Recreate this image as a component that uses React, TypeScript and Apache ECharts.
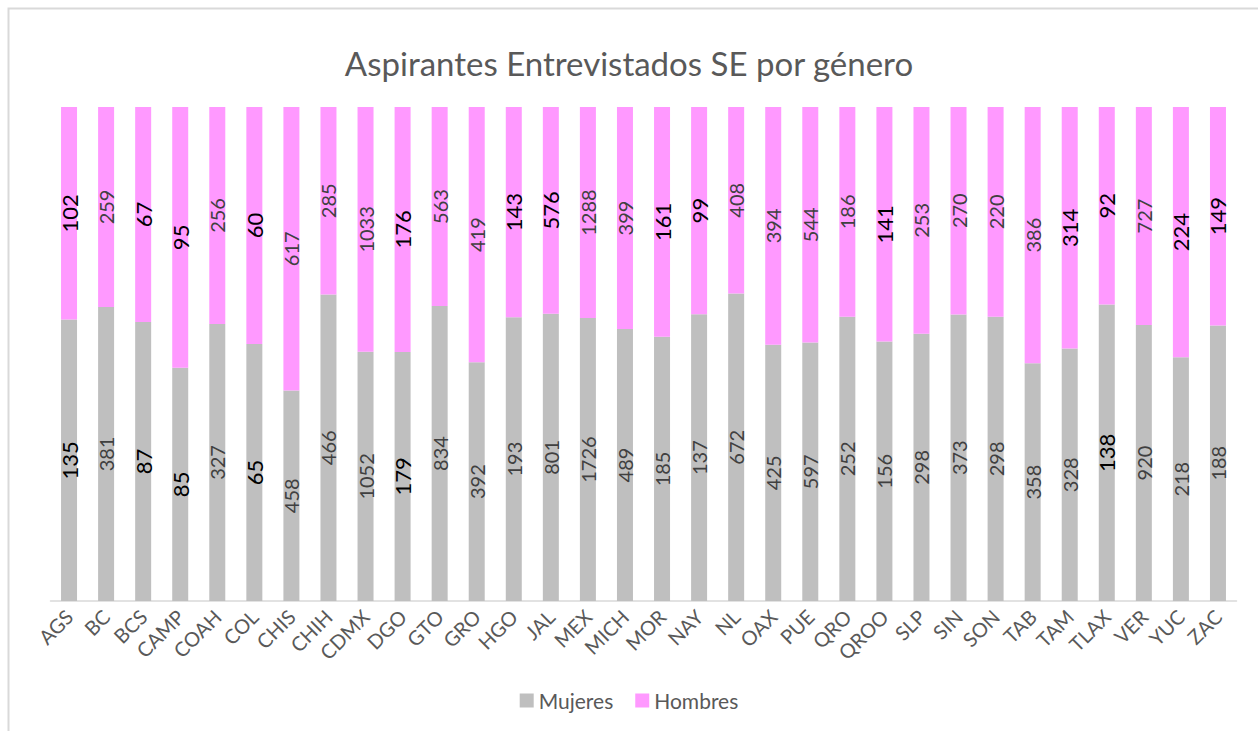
import React, { useEffect, useRef } from "react";
import * as echarts from "echarts";

const categories = ["AGS","BC","BCS","CAMP","COAH","COL","CHIS","CHIH","CDMX","DGO","GTO","GRO","HGO","JAL","MEX","MICH","MOR","NAY","NL","OAX","PUE","QRO","QROO","SLP","SIN","SON","TAB","TAM","TLAX","VER","YUC","ZAC"];
const mujeres = [135,381,87,85,327,65,458,466,1052,179,834,392,193,801,1726,489,185,137,672,425,597,252,156,298,373,298,358,328,138,920,218,188];
const hombres = [102,259,67,95,256,60,617,285,1033,176,563,419,143,576,1288,399,161,99,408,394,544,186,141,253,270,220,386,314,92,727,224,149];
// labels drawn in black (others dark grey) as in the reference
const mujeresDark = ["AGS","BCS","CAMP","COL","DGO","TLAX"];
const hombresDark = ["AGS","BCS","CAMP","COL","DGO","HGO","JAL","MOR","NAY","QROO","TAM","TLAX","YUC","ZAC"];

const FONT = "Lato, 'Open Sans', sans-serif";

export default function App() {
  const ref = useRef<HTMLDivElement>(null);
  useEffect(() => {
    const chart = echarts.init(ref.current!, null, { renderer: "svg" });
    const totals = mujeres.map((m, i) => m + hombres[i]);
    const mk = (vals: number[], dark: string[]) =>
      vals.map((v, i) => {
        const isDark = dark.includes(categories[i]);
        return {
          value: v / totals[i],
          raw: v,
          label: isDark
            ? { color: "#000000", fontSize: 22 }
            : { color: "#404040", fontSize: 20 },
        };
      });
    const labelBase = {
      show: true,
      position: "inside",
      rotate: 90,
      fontFamily: FONT,
      fontSize: 20,
      color: "#404040",
      formatter: (p: any) => String(p.data.raw),
    };
    chart.setOption({
      animation: false,
      backgroundColor: "#ffffff",
      title: {
        text: "Aspirantes Entrevistados SE por género",
        left: "center",
        top: 41,
        textStyle: { fontFamily: FONT, fontSize: 33, fontWeight: "normal", color: "#595959" },
      },
      legend: {
        bottom: 15,
        left: "center",
        itemWidth: 14,
        itemHeight: 14,
        itemGap: 22,
        icon: "rect",
        textStyle: { fontFamily: FONT, fontSize: 21, color: "#595959" },
        data: ["Mujeres", "Hombres"],
      },
      grid: { left: 50.5, right: 21.5, top: 107, bottom: 130, containLabel: false },
      xAxis: {
        type: "category",
        data: categories,
        axisLine: { lineStyle: { color: "#D9D9D9", width: 1.5 } },
        axisTick: { show: false },
        axisLabel: {
          rotate: 45,
          interval: 0,
          margin: 12,
          fontFamily: FONT,
          fontSize: 20,
          color: "#595959",
        },
      },
      yAxis: {
        type: "value",
        min: 0,
        max: 1,
        show: false,
        splitLine: { show: false },
      },
      series: [
        {
          name: "Mujeres",
          type: "bar",
          stack: "total",
          barWidth: 16,
          itemStyle: { color: "#BFBFBF" },
          label: labelBase,
          data: mk(mujeres, mujeresDark),
        },
        {
          name: "Hombres",
          type: "bar",
          stack: "total",
          barWidth: 16,
          itemStyle: { color: "#FF99FF" },
          label: labelBase,
          data: mk(hombres, hombresDark),
        },
      ],
      graphic: [
        {
          type: "rect",
          shape: { x: 8.5, y: 8.5, width: 1400, height: 900 },
          style: { fill: "none", stroke: "#D9D9D9", lineWidth: 2 },
          silent: true,
        },
      ],
    });
    return () => chart.dispose();
  }, []);
  return (
    <div
      ref={ref}
      style={{ position: "absolute", left: 0, top: 0, width: 1258, height: 731 }}
    />
  );
}
